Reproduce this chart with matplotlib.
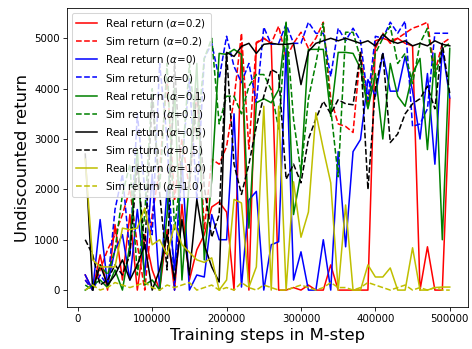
import numpy as np
import matplotlib.pyplot as plt

# training steps (x axis)
steps = [10000, 20000, 30000, 40000, 50000, 60000, 70000, 80000, 90000, 100000,
         110000, 120000, 130000, 140000, 150000, 160000, 170000, 180000, 190000, 200000,
         210000, 220000, 230000, 240000, 250000, 260000, 270000, 280000, 290000, 300000,
         310000, 320000, 330000, 340000, 350000, 360000, 370000, 380000, 390000, 400000,
         410000, 420000, 430000, 440000, 450000, 460000, 470000, 480000, 490000, 500000]

real_02 = [300, 0, 700, 0, 1300, 200, 1500, 0, 1100, 400,
           0, 1200, 0, 1700, 200, 800, 1100, 1650, 1750, 1550,
           0, 4900, 0, 4900, 5000, 4900, 0, 0, 50, 0,
           100, 0, 0, 500, 0, 0, 0, 0, 0, 4950,
           5000, 4950, 5000, 4900, 4850, 0, 860, 0, 0, 3800]
sim_02 = [200, 0, 400, 800, 1100, 1500, 2000, 900, 0, 1500,
          2400, 4200, 1800, 3000, 2000, 4000, 1200, 2600, 2500, 2850,
          3790, 5100, 2800, 4920, 5000, 4900, 5240, 4600, 4900, 5120,
          4800, 5000, 5320, 3800, 3300, 3250, 3130, 4720, 3650, 4800,
          5100, 4900, 5000, 5100, 5200, 5250, 5320, 4320, 4900, 5000]
real_0 = [300, 0, 1400, 100, 800, 1100, 200, 1600, 300, 2300,
          0, 2000, 400, 2600, 0, 300, 260, 1500, 1000, 1000,
          3500, 60, 1790, 1960, 0, 900, 960, 4800, 200, 760,
          0, 0, 1000, 0, 2750, 860, 2750, 2990, 4180, 3850,
          4700, 3950, 3950, 4640, 3950, 3000, 4300, 2500, 4800, 3820]
sim_0 = [200, 0, 300, 100, 1600, 2300, 700, 3500, 2000, 1100,
         4500, 3000, 0, 2500, 4200, 1800, 4600, 4900, 4200, 5040,
         4440, 4120, 4500, 3720, 5220, 4880, 4900, 5280, 4900, 4900,
         5320, 5100, 5100, 4240, 5200, 4950, 5200, 4950, 3780, 5040,
         5000, 5320, 5100, 5340, 3250, 3300, 3600, 5100, 5100, 5100]
real_01 = [0, 100, 200, 50, 400, 0, 900, 2800, 100, 200,
           0, 1500, 4000, 200, 2200, 4500, 600, 2200, 4700, 4680,
           4780, 4680, 1230, 3720, 3800, 3720, 3980, 5320, 1500, 2330,
           4780, 4780, 4780, 3450, 4720, 4720, 4700, 4400, 3600, 4300,
           3000, 4500, 3850, 3650, 4300, 4600, 2790, 4700, 1000, 4800]
sim_01 = [100, 0, 500, 300, 800, 1900, 2500, 300, 1500, 4000,
          2000, 4500, 1200, 2500, 4500, 3000, 4600, 5000, 3300, 3850,
          3850, 3500, 4050, 4280, 4280, 3980, 3200, 5300, 3390, 2330,
          3800, 4500, 5300, 3600, 2250, 5120, 5120, 4600, 3600, 4700,
          5000, 5240, 4500, 4700, 4100, 4900, 5200, 4200, 4800, 4900]
real_05 = [2700, 0, 500, 100, 300, 600, 200, 500, 900, 0,
           400, 1100, 200, 1400, 300, 1800, 900, 460, 160, 4720,
           4640, 4840, 4900, 4700, 4880, 4900, 4880, 4880, 4900, 4080,
           4740, 4900, 4950, 5000, 4950, 5000, 4950, 4900, 4950, 4850,
           5080, 4950, 4900, 4950, 4850, 4900, 4850, 4950, 4880, 4850]
sim_05 = [1000, 700, 100, 200, 500, 300, 700, 2500, 800, 3800,
          1930, 400, 4500, 2000, 2050, 4000, 2050, 1050, 1500, 4700,
          2500, 1900, 2500, 3250, 3850, 4380, 4300, 2200, 2500, 2130,
          3000, 3400, 3750, 3500, 3780, 3700, 3680, 4720, 2000, 4000,
          4720, 2930, 3100, 3500, 3700, 3800, 4050, 3600, 4900, 3900]
real_10 = [2600, 600, 460, 460, 460, 1230, 1200, 1230, 1630, 900,
           1000, 700, 1300, 900, 750, 600, 550, 640, 0, 200,
           1800, 1730, 60, 460, 3650, 0, 3650, 0, 2150, 1050,
           1550, 3520, 2800, 2130, 0, 1690, 0, 0, 500, 260,
           260, 440, 0, 0, 840, 0, 0, 50, 60, 60]
sim_10 = [0, 100, 0, 50, 150, 100, 50, 100, 150, 50,
          0, 100, 50, 100, 150, 0, 50, 100, 0, 50,
          0, 150, 50, 0, 100, 50, 0, 0, 50, 100,
          50, 0, 50, 150, 50, 50, 0, 50, 150, 100,
          50, 0, 50, 100, 0, 50, 0, 50, 0, 0]

series = [
    (real_02, 'r-', r'Real return ($\alpha$=0.2)'),
    (sim_02, 'r--', r'Sim return ($\alpha$=0.2)'),
    (real_0, 'b-', r'Real return ($\alpha$=0)'),
    (sim_0, 'b--', r'Sim return ($\alpha$=0)'),
    (real_01, 'g-', r'Real return ($\alpha$=0.1)'),
    (sim_01, 'g--', r'Sim return ($\alpha$=0.1)'),
    (real_05, 'k-', r'Real return ($\alpha$=0.5)'),
    (sim_05, 'k--', r'Sim return ($\alpha$=0.5)'),
    (real_10, 'y-', r'Real return ($\alpha$=1.0)'),
    (sim_10, 'y--', r'Sim return ($\alpha$=1.0)'),
]

fig = plt.figure(figsize=(6.4, 4.733), dpi=73.75)
ax = fig.add_axes([0.142, 0.120, 0.8495, 0.857])

x = np.array(steps)
for vals, fmt, label in series:
    ax.plot(x, np.array(vals), fmt, label=label)

ax.set_ylim(-338, 5602)
ax.set_xlabel('Training steps in M-step', fontsize=16)
ax.set_ylabel('Undiscounted return', fontsize=16)
ax.legend(loc='upper left', fontsize=10)

fig.savefig('out.png', dpi=73.75)
